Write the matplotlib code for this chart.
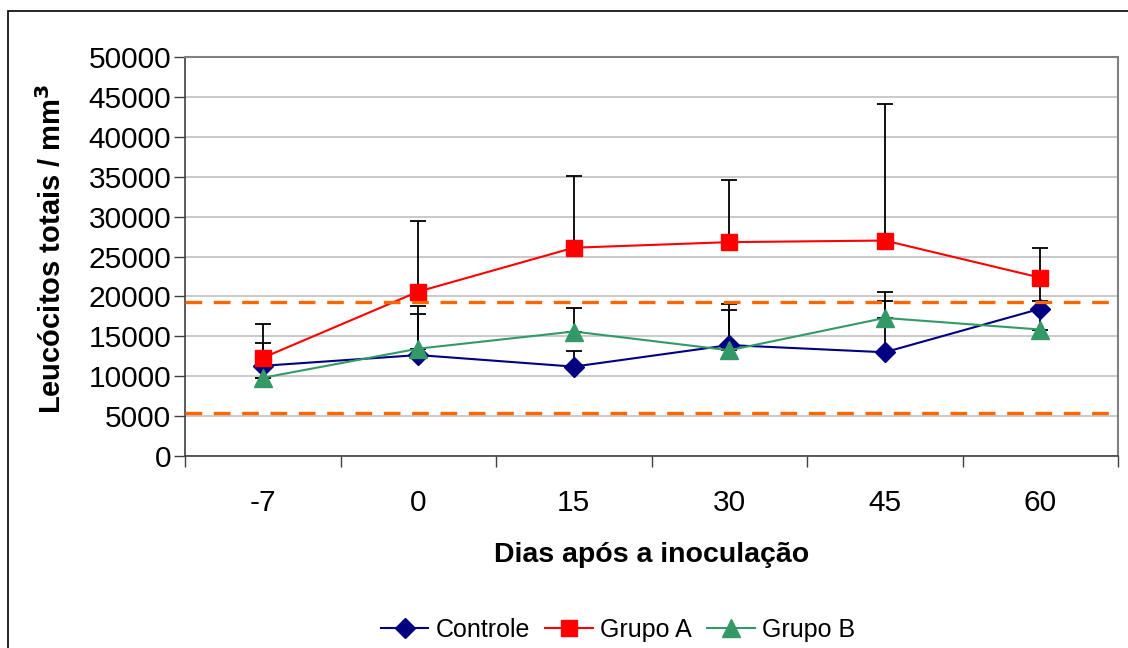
import numpy as np
import matplotlib.pyplot as plt
from matplotlib.patches import Rectangle

plt.rcParams['font.family'] = ['Liberation Sans', 'DejaVu Sans']

# Dados
dias = ['-7', '0', '15', '30', '45', '60']
controle = [11300, 12650, 11200, 13900, 13000, 18450]
grupo_a = [12300, 20600, 26100, 26800, 27000, 22350]
grupo_b = [9800, 13450, 15600, 13250, 17300, 15850]

# Desvio (apenas para cima)
err_controle = [2800, 5200, 2000, 5200, 7500, 1000]
err_a = [4200, 8850, 9000, 7800, 17150, 3750]
err_b = [0, 5350, 2900, 5100, 2100, 6450]

# Faixa de referência
ref_sup = 19300
ref_inf = 5350

fig = plt.figure(figsize=(11.28, 6.48), dpi=100)
ax = fig.add_axes([185 / 1128, 1 - 456 / 648, (1118 - 185) / 1128, (456 - 57) / 648])

# moldura externa
fig.patches.append(Rectangle((8 / 1128, -0.05), 1.1, 1 - 11 / 648 + 0.05,
                             transform=fig.transFigure, fill=False,
                             edgecolor='black', linewidth=1.2))

x = np.arange(len(dias))

series = [
    ('Controle', controle, err_controle, '#000080', 'D', 10.5),
    ('Grupo A', grupo_a, err_a, '#FF0000', 's', 12),
    ('Grupo B', grupo_b, err_b, '#339966', '^', 12.5),
]

for nome, vals, err, cor, mk, ms in series:
    ax.errorbar(x, vals, yerr=[np.zeros(len(err)), err], fmt='none',
                ecolor='black', elinewidth=1.3, capsize=6, capthick=1.3,
                zorder=2)

for nome, vals, err, cor, mk, ms in series:
    ax.plot(x, vals, color=cor, marker=mk, markersize=ms, linewidth=1.5,
            label=nome, zorder=3)

ax.axhline(ref_sup, color='#FF6600', linewidth=2.4, dashes=(5, 3.5), zorder=4)
ax.axhline(ref_inf, color='#FF6600', linewidth=2.4, dashes=(5, 3.5), zorder=4)

ax.set_xlim(-0.5, len(dias) - 0.5)
ax.set_ylim(0, 50000)
ax.set_yticks(np.arange(0, 50001, 5000))
ax.yaxis.grid(True, color='#C0C0C0', linewidth=1.2)
ax.set_axisbelow(True)

ax.set_xticks(np.arange(-0.5, len(dias), 1))
ax.set_xticklabels([])
ax.set_xticks(x, minor=True)
ax.set_xticklabels(dias, minor=True)
ax.tick_params(axis='x', which='major', length=8, width=1, color='#404040')
ax.tick_params(axis='x', which='minor', length=0, pad=24, labelsize=21.5)
ax.tick_params(axis='y', length=8, width=1, color='#404040', labelsize=21.5, pad=2)

for s in ['left', 'bottom']:
    ax.spines[s].set_color('#404040')
    ax.spines[s].set_linewidth(1.2)
for s in ['top', 'right']:
    ax.spines[s].set_color('#808080')
    ax.spines[s].set_linewidth(1.5)

ax.set_xlabel('Dias após a inoculação', fontsize=20.5, fontweight='bold', va='top')
ax.xaxis.set_label_coords(0.5, -0.215)
ax.set_ylabel('Leucócitos totais / mm$^\\mathbf{3}$', fontsize=21, fontweight='bold')
ax.yaxis.set_label_coords(-0.127, 0.52)

fig.legend(loc='center', bbox_to_anchor=(618 / 1128, 18 / 648), ncol=3,
           frameon=False, fontsize=18, handlelength=1.9, handletextpad=0.3,
           columnspacing=0.6)

fig.savefig('out.png', dpi=100)
